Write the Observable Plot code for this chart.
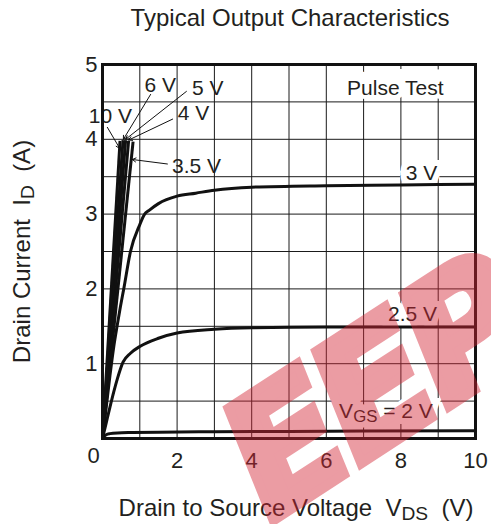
<!DOCTYPE html>
<html>
<head>
<meta charset="utf-8">
<script src="https://cdn.jsdelivr.net/npm/d3@7"></script>
<script src="https://cdn.jsdelivr.net/npm/@observablehq/plot@0.6"></script>
<style>
  html, body { margin: 0; padding: 0; background: #fff; }
</style>
</head>
<body>
<div id="chart"></div>
<script>
// Drain current vs drain-source voltage, one curve per gate voltage.
const vds_2V  = [0, 0.05, 0.1, 0.2, 0.4, 0.8, 1.5, 3, 5, 7, 10];
const id_2V   = [0, 0.03, 0.05, 0.065, 0.075, 0.08, 0.085, 0.09, 0.095, 0.1, 0.105];

const vds_25V = [0, 0.1, 0.2, 0.3, 0.4, 0.55, 0.75, 1.0, 1.5, 2.0, 3.0, 4.0, 6.0, 8.0, 10];
const id_25V  = [0, 0.21, 0.42, 0.62, 0.8, 1.02, 1.14, 1.23, 1.34, 1.41, 1.46, 1.48, 1.49, 1.49, 1.49];

const vds_3V  = [0, 0.1, 0.2, 0.3, 0.39, 0.48, 0.57, 0.75, 1.0, 1.13, 1.25, 1.5, 2.0, 2.5, 3.0, 4.0, 6.0, 8.0, 10];
const id_3V   = [0, 0.42, 0.84, 1.22, 1.5, 1.76, 2.0, 2.5, 2.86, 3.0, 3.05, 3.14, 3.24, 3.28, 3.32, 3.36, 3.38, 3.39, 3.4];

// Higher gate voltages: nearly linear rise from the origin until the 4 A limit.
const steepGates  = ["3.5 V", "4 V", "5 V", "6 V", "10 V"];
const steepEndVds = [0.82, 0.70, 0.62, 0.55, 0.47];
const steepEndId  = [3.97, 3.98, 3.99, 3.99, 3.98];

// Curve labels and their leader lines
const labelText = ["10 V", "6 V", "5 V", "4 V", "3.5 V", "3 V", "2.5 V", "V_GS = 2 V"];
const labelVds  = [0.21, 1.55, 2.82, 2.44, 2.52, 8.55, 8.31, 7.6];
const labelId   = [4.31, 4.72, 4.68, 4.35, 3.64, 3.55, 1.66, 0.36];

const noteText = ["Pulse Test"];
const noteVds  = [7.85];
const noteId   = [4.68];

const leaderFromVds = [0.13, 1.29, 2.25, 1.88, 1.74];
const leaderFromId  = [4.16, 4.60, 4.64, 4.27, 3.67];
const leaderToVds   = [0.46, 0.56, 0.62, 0.70, 0.80];
const leaderToId    = [3.88, 4.00, 4.00, 3.99, 3.73];

// Labels on the right side sit on a cleared patch of the grid
const clearedText = ["3 V", "2.5 V", "V_GS = 2 V"];
const clearedVds  = [8.55, 8.31, 7.6];
const clearedId   = [3.55, 1.66, 0.36];

// White plot background panels
const panelVds1 = [0];
const panelVds2 = [10];
const panelId1  = [0];
const panelId2  = [5];

const xTicks = [2, 4, 6, 8, 10];
const yTicks = [1, 2, 3, 4, 5];
const xGrid = d3.range(0, 10.001, 1);
const yGrid = d3.range(0, 5.001, 0.5);

const rows = (xs, ys) => xs.map((v, i) => ({vds: v, id: ys[i]}));
const panels = panelVds1.map((v, i) => ({x1: v, x2: panelVds2[i], y1: panelId1[i], y2: panelId2[i]}));
const nb = s => s.replace(/ {2}/g, "\u00a0\u00a0");

const ink = "#231f20";
const stampRed = "#d42535";
const gridStyle = {stroke: "#1a1a1a", strokeWidth: 1};
const curveStyle = {x: "vds", y: "id", stroke: "#111", strokeWidth: 3, curve: "monotone-x"};
const centered = {textAnchor: "middle", lineAnchor: "middle", fill: ink};
const clearing = {textAnchor: "middle", lineAnchor: "middle", fill: "#fff", stroke: "#fff", strokeLinejoin: "miter"};

const chart = Plot.plot({
  width: 491,
  height: 524,
  marginLeft: 102,
  marginRight: 16,
  marginTop: 64,
  marginBottom: 86,
  x: {domain: [0, 10], label: null},
  y: {domain: [0, 5], label: null},
  style: {fontFamily: "'Liberation Sans', Arial, sans-serif", color: ink, background: "#fff", overflow: "hidden"},
  marks: [
    Plot.rect(panels, {x1: "x1", x2: "x2", y1: "y1", y2: "y2", fill: "#fff"}),
    Plot.ruleX(xGrid, {x: d => d, ...gridStyle}),
    Plot.ruleY(yGrid, {y: d => d, ...gridStyle}),
    Plot.text(clearedText, {x: clearedVds, y: clearedId, text: clearedText, fontSize: 21, strokeWidth: 12, ...clearing}),
    Plot.text(noteText, {x: noteVds, y: noteId, dy: -4, text: noteText, fontSize: 21, strokeWidth: 16, ...clearing}),
    Plot.line(rows(vds_2V, id_2V), curveStyle),
    Plot.line(rows(vds_25V, id_25V), curveStyle),
    Plot.line(rows(vds_3V, id_3V), curveStyle),
    Plot.link(steepGates, {x1: 0, y1: 0, x2: steepEndVds, y2: steepEndId, stroke: "#111", strokeWidth: 3}),
    Plot.arrow(leaderFromVds, {x1: leaderFromVds, y1: leaderFromId, x2: leaderToVds, y2: leaderToId,
      stroke: "#111", strokeWidth: 1, headLength: 6, bend: 0}),
    Plot.text(labelText, {x: labelVds, y: labelId, text: labelText, fontSize: 21, ...centered}),
    Plot.text(noteText, {x: noteVds, y: noteId, text: noteText, fontSize: 21, ...centered}),
    Plot.frame({stroke: "#111", strokeWidth: 3}),
    Plot.axisX(xTicks, {tickSize: 0, tickPadding: 14, fontSize: 22, label: null, tickFormat: d => `${d}`}),
    Plot.axisY(yTicks, {tickSize: 0, tickPadding: 5, fontSize: 22, label: null, tickFormat: d => `${d}`}),
    Plot.text(["0"], {x: [0], y: [0], dx: -9, dy: 17, fontSize: 22, ...centered}),
    Plot.text(["Typical Output Characteristics"], {frameAnchor: "top", dy: -46, dx: 1, fontSize: 24, ...centered}),
    Plot.text([nb("Drain Current  I_D  (A)")], {frameAnchor: "left", dx: -80, rotate: -90, fontSize: 24, ...centered}),
    Plot.text([nb("Drain to Source Voltage  V_DS  (V)")], {frameAnchor: "bottom", dy: 70, dx: 7, fontSize: 24, ...centered}),
    // site stamp over the chart
    Plot.text(["EEP"], {frameAnchor: "bottom-left", dx: 140, dy: 40, rotate: -33, textAnchor: "start",
      lineAnchor: "middle", fontSize: 162, fontWeight: "bold", fontStyle: "italic",
      fontFamily: "'DejaVu Sans', sans-serif", fill: stampRed, className: "stamp"})
  ]
});

// Translucent, slightly fattened stamp letters
d3.select(chart).selectAll(".stamp").attr("opacity", 0.45)
  .selectAll("text").attr("stroke", stampRed).attr("stroke-width", 10)
  .attr("stroke-linejoin", "miter").attr("letter-spacing", "-6px");

// Turn "X_SUB" into a subscripted tspan
d3.select(chart).selectAll("text").each(function () {
  const s = this.textContent;
  if (!s.includes("_") || this.children.length) return;
  this.textContent = "";
  const parts = s.split(/_([A-Z]+)/);
  let shifted = false;
  parts.forEach((p, i) => {
    const sub = i % 2 === 1;
    const ts = d3.select(this).append("tspan").text(p);
    if (sub) { ts.attr("font-size", "0.8em").attr("dy", 4); shifted = true; }
    else if (shifted) { ts.attr("dy", -4); shifted = false; }
  });
});

document.getElementById("chart").append(chart);
</script>
</body>
</html>
